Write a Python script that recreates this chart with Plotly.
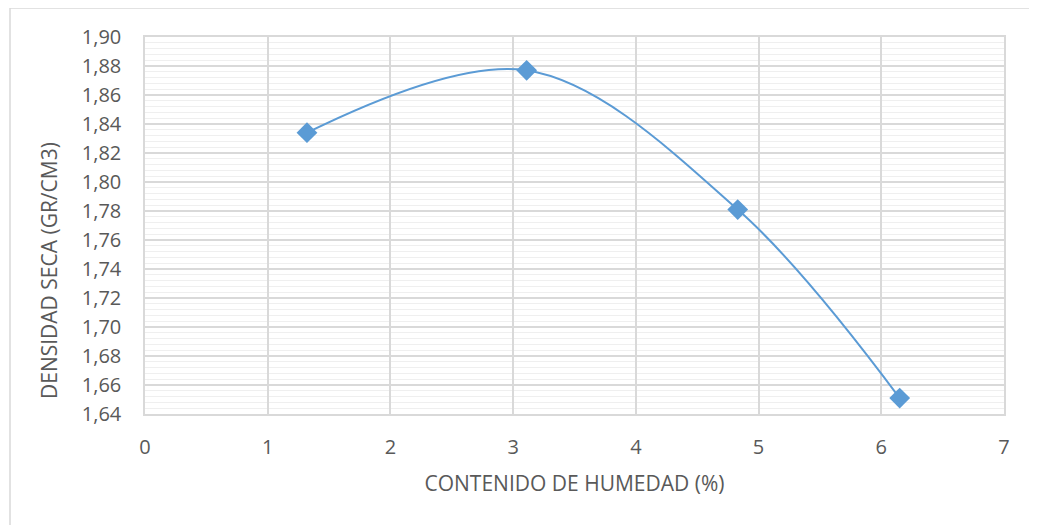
import plotly.graph_objects as go

humedad = [1.32, 3.11, 4.83, 6.15]
densidad = [1.834, 1.877, 1.781, 1.651]

x_title = "CONTENIDO DE HUMEDAD (%)"
y_title = "DENSIDAD SECA (GR/CM3)"

# page has an 8px body margin, so the figure is sized to compensate
W, H = 1029, 517
ml, mr, mt, mb = 137, 33, 29, 111
pw, ph = W - ml - mr, H - mt - mb

font_family = "Open Sans, Lato, Liberation Sans, sans-serif"
txt = "#595959"
blue = "#5b9bd5"

fig = go.Figure()
fig.add_trace(go.Scatter(
    x=humedad, y=densidad, mode="lines+markers",
    line=dict(color=blue, width=2, shape="spline", smoothing=1.0),
    marker=dict(symbol="diamond", size=16, color=blue),
    showlegend=False,
))

fig.update_layout(
    width=W, height=H,
    margin=dict(l=ml, r=mr, t=mt, b=mb),
    paper_bgcolor="white", plot_bgcolor="white",
    separators=",.",
    font=dict(family=font_family, color=txt),
    xaxis=dict(
        range=[0, 7], dtick=1, tick0=0,
        showgrid=True, gridcolor="#d9d9d9", gridwidth=1.5,
        zeroline=False, showline=True, linecolor="#d9d9d9", linewidth=1.5, mirror=True,
        ticks="", ticklabelstandoff=14, tickfont=dict(size=20, color=txt),
        title=dict(text=x_title, font=dict(size=21, color=txt), standoff=18),
    ),
    yaxis=dict(
        range=[1.64, 1.90], dtick=0.02, tick0=1.64, tickformat=".2f",
        showgrid=True, gridcolor="#d9d9d9", gridwidth=1.5,
        zeroline=False, showline=True, linecolor="#d9d9d9", linewidth=1.5, mirror=True,
        ticks="", ticklabelstandoff=18, tickfont=dict(size=20, color=txt),
        minor=dict(dtick=0.004, showgrid=True, gridcolor="#efefef", gridwidth=1),
    ),
)

# y axis title (placed lower than centre, as in the original)
fig.add_annotation(
    text=y_title, textangle=-90, showarrow=False,
    xref="paper", yref="paper",
    x=(49 - 8 - ml) / pw, y=(H - mb - (271 - 8)) / ph,
    xanchor="center", yanchor="middle",
    font=dict(size=21, color=txt, family=font_family),
)

# outer chart border
fig.add_shape(
    type="rect", xref="paper", yref="paper",
    x0=(2 - ml) / pw, x1=(1045 - ml) / pw,
    y0=(H - mb - 535) / ph, y1=(H - mb - 0) / ph,
    line=dict(color="#d9d9d9", width=1.5), fillcolor="rgba(0,0,0,0)", layer="below",
)

fig.write_html("out.html")
